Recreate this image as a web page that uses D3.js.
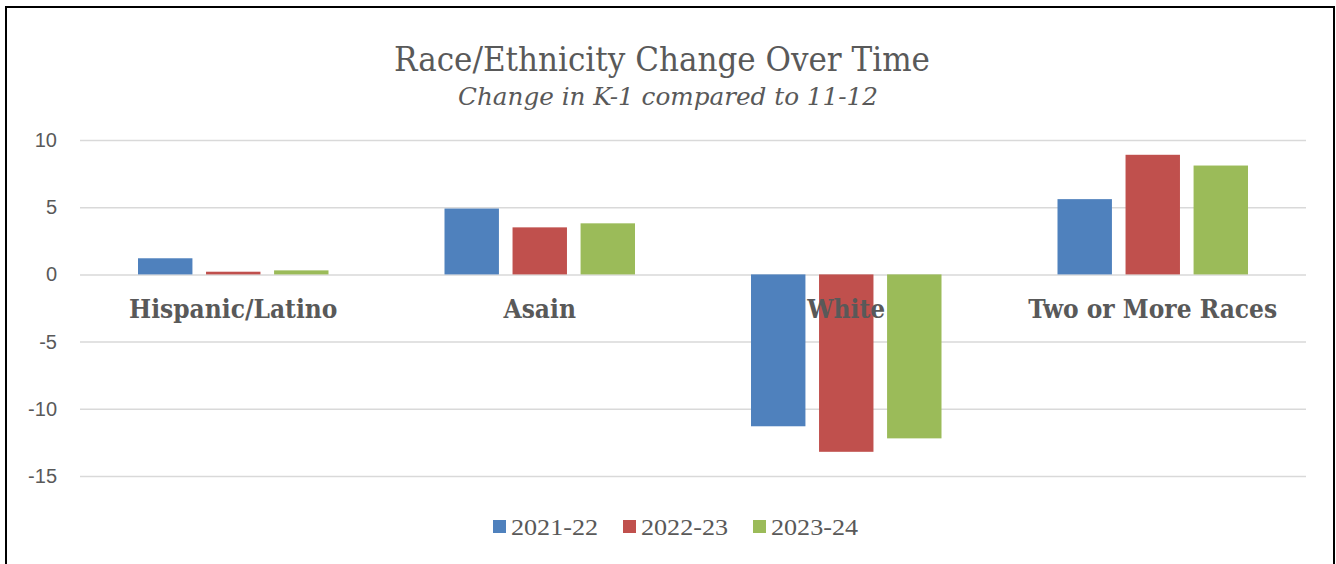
<!DOCTYPE html>
<html>
<head>
<meta charset="utf-8">
<script src="https://cdn.jsdelivr.net/npm/d3@7"></script>
<style>
  body { margin: 0; background: #fff; }
  svg { display: block; }
</style>
</head>
<body>
<script>
// data
var categories = ["Hispanic/Latino", "Asain", "White", "Two or More Races"];
var seriesNames = ["2021-22", "2022-23", "2023-24"];
var values2122 = [1.2, 4.9, -11.3, 5.6];
var values2223 = [0.2, 3.5, -13.2, 8.9];
var values2324 = [0.3, 3.8, -12.2, 8.1];
var yTicks = [-15, -10, -5, 0, 5, 10];
var seriesColors = ["#4f81bd", "#c0504d", "#9bbb59"];

var seriesValues = [values2122, values2223, values2324];

var svgWidth = 1336, svgHeight = 564;
var margin = { left: 80, right: 30 };

var svg = d3.select("body").append("svg")
  .attr("width", svgWidth)
  .attr("height", svgHeight);

// outer frame
svg.append("rect")
  .attr("x", 6).attr("y", 7)
  .attr("width", 1328).attr("height", 600)
  .attr("fill", "none")
  .attr("stroke", "#000")
  .attr("stroke-width", 2);

// titles
svg.append("text")
  .attr("x", 662).attr("y", 71)
  .attr("text-anchor", "middle")
  .attr("font-family", "'DejaVu Serif Condensed', 'Liberation Serif', serif")
  .attr("font-size", 34)
  .attr("fill", "#595959")
  .attr("textLength", 536)
  .attr("lengthAdjust", "spacingAndGlyphs")
  .text("Race/Ethnicity Change Over Time");

svg.append("text")
  .attr("x", 668).attr("y", 105)
  .attr("text-anchor", "middle")
  .attr("font-family", "'DejaVu Serif Condensed', 'Liberation Serif', serif")
  .attr("font-style", "italic")
  .attr("font-size", 24)
  .attr("fill", "#595959")
  .attr("textLength", 420)
  .attr("lengthAdjust", "spacingAndGlyphs")
  .text("Change in K-1 compared to 11-12");

// scales
var yScale = d3.scaleLinear()
  .domain([-15, 10])
  .range([476, 140]);

var x0 = d3.scaleBand()
  .domain(categories)
  .range([margin.left, svgWidth - margin.right])
  .padding(0);

var x1 = d3.scaleBand()
  .domain(seriesNames)
  .range([58, x0.bandwidth() - 58])
  .paddingInner(0.2)
  .paddingOuter(0);

// gridlines + y labels via axis
var yAxis = d3.axisLeft(yScale)
  .tickValues(yTicks)
  .tickSize(-(svgWidth - margin.left - margin.right))
  .tickPadding(23)
  .tickFormat(d3.format("d"));

var yG = svg.append("g")
  .attr("transform", `translate(${margin.left},0)`)
  .call(yAxis);
yG.select(".domain").remove();
yG.selectAll(".tick line")
  .attr("stroke", "#d9d9d9")
  .attr("stroke-width", 1.5);
yG.selectAll(".tick text")
  .attr("font-family", "'Liberation Sans', Arial, sans-serif")
  .attr("font-size", 20)
  .attr("fill", "#595959")
  .text(d => d < 0 ? "-" + Math.abs(d) : d);

// bars
var groups = svg.append("g").selectAll("g")
  .data(categories)
  .enter()
  .append("g")
  .attr("transform", d => `translate(${x0(d)},0)`);

groups.selectAll("rect")
  .data((d, i) => seriesNames.map((s, j) => ({ series: s, value: seriesValues[j][i], color: seriesColors[j] })))
  .enter()
  .append("rect")
  .attr("x", d => x1(d.series))
  .attr("width", x1.bandwidth())
  .attr("y", d => yScale(Math.max(0, d.value)))
  .attr("height", d => Math.abs(yScale(d.value) - yScale(0)))
  .attr("fill", d => d.color);

// category labels
svg.append("g").selectAll("text")
  .data(categories)
  .enter()
  .append("text")
  .attr("x", d => x0(d) + x0.bandwidth() / 2)
  .attr("y", 318)
  .attr("text-anchor", "middle")
  .attr("font-family", "'DejaVu Serif Condensed', 'Liberation Serif', serif")
  .attr("font-weight", "bold")
  .attr("font-size", 26)
  .attr("fill", "#595959")
  .text(d => d);

// legend
var legendX = [493, 623, 753];
var legend = svg.append("g").selectAll("g")
  .data(seriesNames)
  .enter()
  .append("g")
  .attr("transform", (d, i) => `translate(${legendX[i]},520)`);

legend.append("rect")
  .attr("width", 13).attr("height", 13)
  .attr("fill", (d, i) => seriesColors[i]);

legend.append("text")
  .attr("x", 18).attr("y", 15)
  .attr("font-family", "'Liberation Serif', serif")
  .attr("font-size", 24)
  .attr("fill", "#595959")
  .attr("textLength", 87)
  .attr("lengthAdjust", "spacingAndGlyphs")
  .text(d => d);
</script>
</body>
</html>
